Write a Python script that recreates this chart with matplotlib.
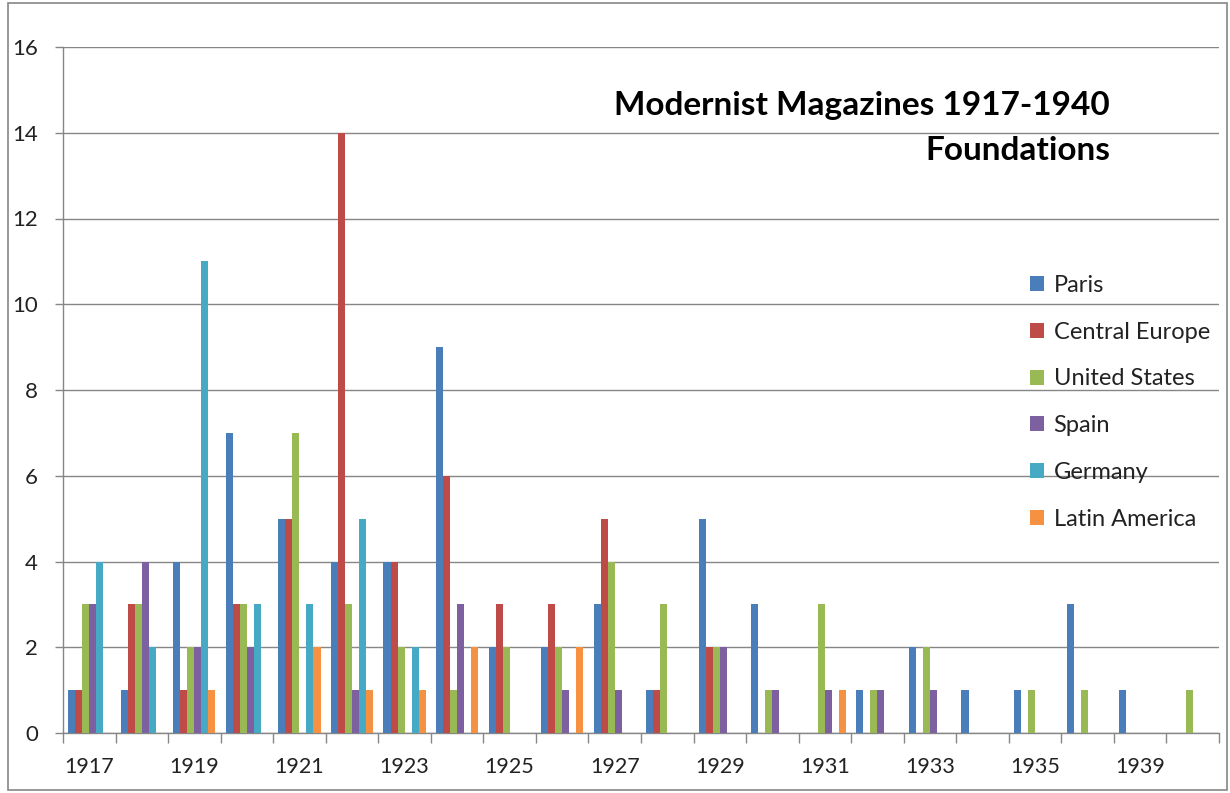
import numpy as np
import matplotlib
matplotlib.use("Agg")
import matplotlib.pyplot as plt
from matplotlib.patches import Rectangle

# DATA
years = ['1917', '1918', '1919', '1920', '1921', '1922', '1923', '1924', '1925', '1926',
         '1927', '1928', '1929', '1930', '1931', '1932', '1933', '1934', '1935', '1937',
         '1939', '1940']
shown_labels = ['1917', '1919', '1921', '1923', '1925', '1927', '1929', '1931', '1933', '1935', '1939']

paris          = [1, 1, 4, 7, 5, 4, 4, 9, 2, 2, 3, 1, 5, 3, 0, 1, 2, 1, 1, 3, 1, 0]
central_europe = [1, 3, 1, 3, 5, 14, 4, 6, 3, 3, 5, 1, 2, 0, 0, 0, 0, 0, 0, 0, 0, 0]
united_states  = [3, 3, 2, 3, 7, 3, 2, 1, 2, 2, 4, 3, 2, 1, 3, 1, 2, 0, 1, 1, 0, 1]
spain          = [3, 4, 2, 2, 0, 1, 0, 3, 0, 1, 1, 0, 2, 1, 1, 1, 1, 0, 0, 0, 0, 0]
germany        = [4, 2, 11, 3, 3, 5, 2, 0, 0, 0, 0, 0, 0, 0, 0, 0, 0, 0, 0, 0, 0, 0]
latin_america  = [0, 0, 1, 0, 2, 1, 1, 2, 0, 2, 0, 0, 0, 0, 1, 0, 0, 0, 0, 0, 0, 0]

series = [('Paris', paris, '#4A7EBB'),
          ('Central Europe', central_europe, '#BE4B48'),
          ('United States', united_states, '#98B954'),
          ('Spain', spain, '#7D60A0'),
          ('Germany', germany, '#46AAC5'),
          ('Latin America', latin_america, '#F69142')]

plt.rcParams['font.family'] = ['Lato', 'DejaVu Sans']
grey = '#868686'
txt = '#222222'

fig = plt.figure(figsize=(12.3, 7.93), dpi=100)
fig.patches.append(Rectangle((8 / 1230, 3 / 793), 1219 / 1230, 787 / 793, transform=fig.transFigure,
                             fill=False, edgecolor=grey, linewidth=1.2))
ax = fig.add_axes([63 / 1230, 1 - 733 / 793, 1156 / 1230, 686 / 793])

x = np.arange(len(years))
w = 0.1336
for i, (name, vals, col) in enumerate(series):
    ax.bar(x + (i - 2.5) * w, vals, width=w, color=col, label=name, zorder=3)

ax.set_xlim(-0.5, len(years) - 0.5)
ax.set_ylim(0, 16)
ax.set_yticks(range(0, 17, 2))
ax.yaxis.grid(True, color=grey, linewidth=1, zorder=0)

# ticks between categories, labels at every other category
ax.set_xticks(np.arange(len(years) + 1) - 0.5)
ax.set_xticklabels([])
ax.set_xticks(x[::2], minor=True)
ax.set_xticklabels(shown_labels, minor=True)
ax.tick_params(axis='x', which='major', length=7, color=grey, width=1)
ax.tick_params(axis='x', which='minor', length=0, pad=17, labelsize=15.5, labelcolor=txt)
ax.tick_params(axis='y', length=6, color=grey, width=1, labelsize=16, labelcolor=txt, pad=12)

for s in ['top', 'right']:
    ax.spines[s].set_visible(False)
for s in ['left', 'bottom']:
    ax.spines[s].set_color(grey)
    ax.spines[s].set_linewidth(1)

fig.text(1110 / 1230, 1 - 106 / 793, 'Modernist Magazines 1917-1940', ha='right', va='center',
         fontsize=24, fontweight='bold')
fig.text(1110 / 1230, 1 - 151 / 793, 'Foundations', ha='right', va='center',
         fontsize=24, fontweight='bold')

leg = ax.legend(loc='upper left', bbox_to_anchor=(1030 / 1230, 1 - 275 / 793),
                bbox_transform=fig.transFigure, frameon=False, borderaxespad=0, borderpad=0,
                fontsize=17, handlelength=0.6, handleheight=0.6, handletextpad=0.4,
                labelspacing=1.09)
for t in leg.get_texts():
    t.set_color(txt)

fig.savefig('out.png', dpi=100)
